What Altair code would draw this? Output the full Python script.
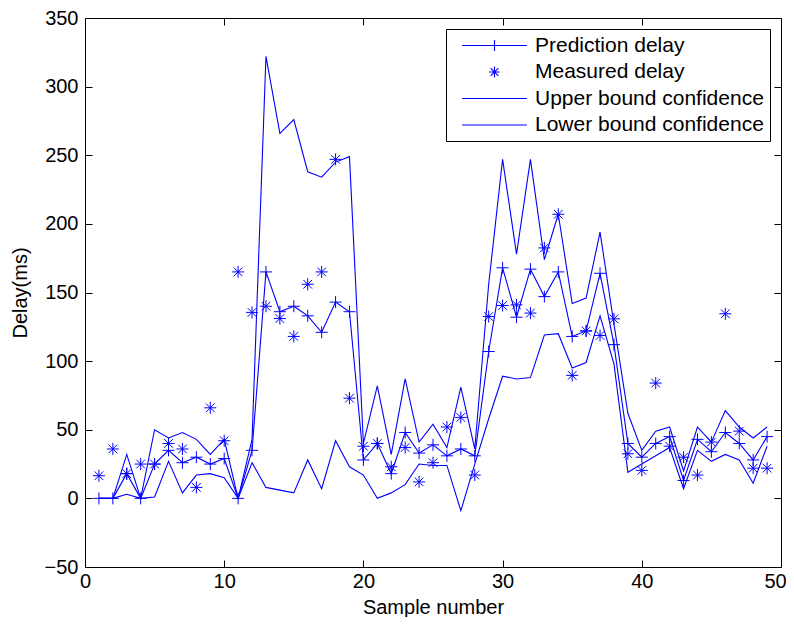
import altair as alt
import pandas as pd

sample = list(range(1, 50))
prediction = [0, 0, 18, 0, 25, 35, 26, 30, 25, 29, 0, 35, 165, 136, 140, 133, 121, 143, 136, 28,
              40, 18, 48, 33, 39, 31, 36, 31, 107, 168, 132, 167, 147, 165, 118, 122, 164, 112, 40, 30,
              40, 45, 13, 43, 34, 48, 40, 28, 45]
measured = [16.5, 36, 18, 25, 25, 40, 36, 8, 66, 42, 165, 135.5, 140, 131, 118, 156, 165, 247, 73, 38,
            40, 23, 37, 12, 26, 52, 59, 17, 132.5, 140.5, 141, 135, 182.5, 207, 89.6, 122, 118.7, 130.8, 32.5, 20.4,
            84, 38, 30, 17, 41, 134.5, 49, 22, 22]
upper = [0, 0, 32, 0, 50, 44, 48, 43, 32, 43, 0, 43, 322, 266, 276, 238, 234, 245, 249, 40,
         82, 32, 87, 41, 54, 37, 81, 36, 156, 247, 178, 247, 174, 207, 142, 146, 194, 127, 62, 35,
         49, 52, 20, 52, 41, 64, 52, 44, 52]
lower = [0, 0, 3, 0, 1, 27, 4, 17, 18, 15, 0, 26, 8, 6, 4, 28, 7, 42, 23, 17,
         0, 4, 10, 25, 24, 24, -9, 25, 58, 89, 87, 88, 119, 120, 95, 99, 133, 98, 19, 25,
         31, 37, 7, 35, 27, 32, 28, 11, 38]

series_names = ["Prediction delay", "Measured delay", "Upper bound confidence", "Lower bound confidence"]
x_ticks = [0, 10, 20, 30, 40, 50]
y_ticks = [-50, 0, 50, 100, 150, 200, 250, 300, 350]

BLUE = "#0000ff"
FONT = "Liberation Sans"
CROSS = "M-1,0L1,0M0,-1L0,1"
STAR = "M-1,0L1,0M0,-1L0,1M-0.72,-0.72L0.72,0.72M-0.72,0.72L0.72,-0.72"
legend_paths = [
    "M-5.4,0L5.4,0M0,-0.9L0,0.9",
    "M-0.9,0L0.9,0M0,-0.9L0,0.9M-0.65,-0.65L0.65,0.65M-0.65,0.65L0.65,-0.65",
    "M-5.4,0L5.4,0",
    "M-5.4,0L5.4,0",
]

W, H = 696, 549

df = pd.DataFrame({"sample": sample, "pred": prediction, "meas": measured,
                   "upper": upper, "lower": lower})
lines_df = pd.concat([
    pd.DataFrame({"sample": sample, "value": prediction, "series": series_names[0]}),
    pd.DataFrame({"sample": sample, "value": upper, "series": series_names[2]}),
    pd.DataFrame({"sample": sample, "value": lower, "series": series_names[3]}),
])
legend_df = pd.DataFrame({"series": series_names})

xs = alt.Scale(domain=[0, 50], nice=False, zero=False)
ys = alt.Scale(domain=[-50, 350], nice=False, zero=False)

# inside ticks on all four sides drawn as dashed grid lines (dash at both ends only)
lab_x = alt.Axis(orient="bottom", values=x_ticks, ticks=False, domain=False,
                 grid=True, gridColor="black", gridOpacity=1, gridWidth=1,
                 gridDash=[7, H - 14, 7, 100],
                 labelOffset={"condition": {"test": "datum.value == 50", "value": -6}, "value": 0},
                 labelFlush=False, labelPadding=4, title="Sample number", titlePadding=6)
lab_y = alt.Axis(orient="left", values=y_ticks, ticks=False, domain=False,
                 grid=True, gridColor="black", gridOpacity=1, gridWidth=1,
                 gridDash=[7, W - 14, 7, 100],
                 labelFlush=False, labelPadding=7, title="Delay(ms)", titlePadding=14)

lines = alt.Chart(lines_df).mark_line(color=BLUE, strokeWidth=1.1).encode(
    x=alt.X("sample:Q", scale=xs, axis=lab_x),
    y=alt.Y("value:Q", scale=ys, axis=lab_y),
    detail="series:N",
)

pred_pts = alt.Chart(df).mark_point(shape=CROSS, size=144, filled=False, color=BLUE,
                                    strokeWidth=1, opacity=1).encode(
    x=alt.X("sample:Q", scale=xs),
    y=alt.Y("pred:Q", scale=ys),
)

meas_pts = alt.Chart(df).mark_point(shape=STAR, size=144, filled=False, color=BLUE,
                                    strokeWidth=1, opacity=1).encode(
    x=alt.X("sample:Q", scale=xs),
    y=alt.Y("meas:Q", scale=ys),
)

legend_layer = alt.Chart(legend_df).mark_point(filled=False, color=BLUE, opacity=0).encode(
    shape=alt.Shape("series:N", scale=alt.Scale(domain=series_names, range=legend_paths),
                    legend=alt.Legend(title=None, orient="top-right", offset=11,
                                      fillColor="white", strokeColor="black",
                                      padding=6, rowPadding=4.5,
                                      symbolSize=144, symbolStrokeWidth=1.1,
                                      symbolStrokeColor=BLUE, symbolFillColor="transparent",
                                      symbolOpacity=1,
                                      symbolOffset=32, labelOffset=30,
                                      labelFont=FONT, labelFontSize=21, labelColor="black",
                                      labelLimit=400)),
)

chart = alt.layer(lines, pred_pts, meas_pts, legend_layer).properties(
    width=W, height=H,
    autosize=alt.AutoSizeParams(type="none"),
    padding={"left": 77, "top": 10, "right": 5, "bottom": 50},
).configure_view(
    stroke="black", strokeWidth=1
).configure_axis(
    labelFont=FONT, labelFontSize=20, labelColor="black",
    titleFont=FONT, titleFontSize=20, titleFontWeight="normal", titleColor="black",
)

chart.save("out.html", embed_options={"renderer": "svg", "actions": False})
